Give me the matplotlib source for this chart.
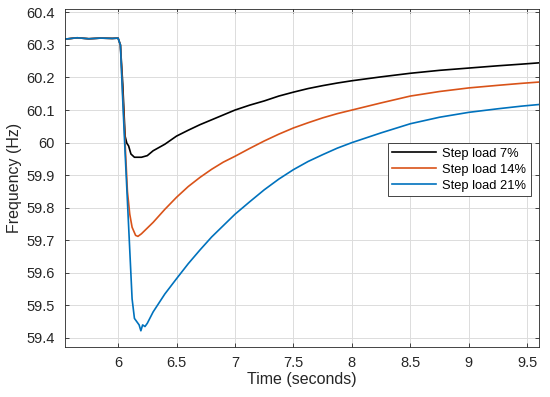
import matplotlib
matplotlib.use("Agg")
import matplotlib.pyplot as plt
from matplotlib.ticker import FormatStrFormatter

plt.rcParams["font.family"] = ["Liberation Sans", "DejaVu Sans"]

# --- Values (time in s, frequency in Hz) ---
T_PRE = [5.55, 5.65, 5.75, 5.85, 5.95, 6.0]
F_PRE = [60.318, 60.322, 60.319, 60.321, 60.320, 60.321]

T_BLACK = T_PRE + [6.02, 6.04, 6.06, 6.075, 6.09, 6.11, 6.14, 6.2, 6.25,
                   6.3, 6.4, 6.5, 6.6, 6.7, 6.8, 6.9, 7.0, 7.125, 7.25,
                   7.375, 7.5, 7.625, 7.75, 7.875, 8.0, 8.25, 8.5, 8.75,
                   9.0, 9.25, 9.45, 9.6]
F_BLACK = F_PRE + [60.30, 60.18, 60.02, 59.998, 59.99, 59.965, 59.955,
                   59.955, 59.96, 59.975, 59.995, 60.02, 60.038, 60.055,
                   60.07, 60.085, 60.10, 60.115, 60.128, 60.143, 60.155,
                   60.166, 60.175, 60.183, 60.19, 60.202, 60.213, 60.222,
                   60.229, 60.236, 60.241, 60.245]

T_RED = T_PRE + [6.02, 6.04, 6.06, 6.08, 6.1, 6.12, 6.15, 6.17, 6.2, 6.3,
                 6.4, 6.5, 6.6, 6.7, 6.8, 6.9, 7.0, 7.125, 7.25, 7.375,
                 7.5, 7.625, 7.75, 7.875, 8.0, 8.25, 8.5, 8.75, 9.0, 9.25,
                 9.45, 9.6]
F_RED = F_PRE + [60.30, 60.15, 60.0, 59.85, 59.78, 59.74, 59.715, 59.712,
                 59.72, 59.755, 59.795, 59.832, 59.865, 59.893, 59.918,
                 59.94, 59.958, 59.982, 60.005, 60.026, 60.045, 60.061,
                 60.076, 60.089, 60.10, 60.122, 60.143, 60.157, 60.168,
                 60.176, 60.182, 60.186]

T_BLUE = T_PRE + [6.02, 6.04, 6.06, 6.08, 6.1, 6.12, 6.14, 6.16, 6.18,
                  6.195, 6.21, 6.23, 6.25, 6.3, 6.4, 6.5, 6.6, 6.7, 6.8,
                  6.9, 7.0, 7.125, 7.25, 7.375, 7.5, 7.625, 7.75, 7.875,
                  8.0, 8.25, 8.5, 8.75, 9.0, 9.25, 9.45, 9.6]
F_BLUE = F_PRE + [60.30, 60.13, 59.97, 59.82, 59.67, 59.52, 59.46, 59.45,
                  59.44, 59.422, 59.44, 59.435, 59.445, 59.48, 59.535,
                  59.582, 59.628, 59.67, 59.71, 59.745, 59.78, 59.818,
                  59.855, 59.888, 59.917, 59.942, 59.963, 59.983, 60.0,
                  60.03, 60.058, 60.078, 60.093, 60.104, 60.112, 60.117]

LABELS = ["Step load 7%", "Step load 14%", "Step load 21%"]
COLORS = ["#000000", "#D95319", "#0072BD"]

X_TICKS = [6, 6.5, 7, 7.5, 8, 8.5, 9, 9.5]
Y_TICKS = [59.4, 59.5, 59.6, 59.7, 59.8, 59.9, 60, 60.1, 60.2, 60.3, 60.4]

fig = plt.figure(figsize=(5.5, 3.97), dpi=100)
ax = fig.add_axes([0.119, 0.125, 0.861, 0.852])

for t, f, lab, col in zip([T_BLACK, T_RED, T_BLUE],
                          [F_BLACK, F_RED, F_BLUE], LABELS, COLORS):
    ax.plot(t, f, color=col, linewidth=1.2, label=lab)

ax.set_xlim(5.55, 9.6)
ax.set_ylim(59.371, 60.41)
ax.set_xticks(X_TICKS)
ax.set_yticks(Y_TICKS)
ax.xaxis.set_major_formatter(FormatStrFormatter("%g"))
ax.yaxis.set_major_formatter(FormatStrFormatter("%g"))
ax.grid(True, color="#dcdcdc", linewidth=0.7)
ax.set_axisbelow(True)
ax.tick_params(direction="in", top=True, right=True, length=3,
               labelsize=10.5, colors="#262626", width=0.6)
ax.tick_params(axis="y", pad=8)
ax.tick_params(axis="x", pad=6)
for s in ax.spines.values():
    s.set_color("#262626")
    s.set_linewidth(0.6)

ax.set_xlabel("Time (seconds)", fontsize=11.5, color="#262626", labelpad=2)
ax.set_ylabel("Frequency (Hz)", fontsize=11.5, color="#262626", labelpad=3)

leg = ax.legend(loc="upper right", bbox_to_anchor=(0.983, 0.603),
                fontsize=9.3, fancybox=False, framealpha=1,
                edgecolor="#262626", handlelength=3.4, borderpad=0.35,
                labelspacing=0.3, handletextpad=0.5, borderaxespad=0)
leg.get_frame().set_linewidth(0.6)

fig.savefig("out.png", dpi=100)
